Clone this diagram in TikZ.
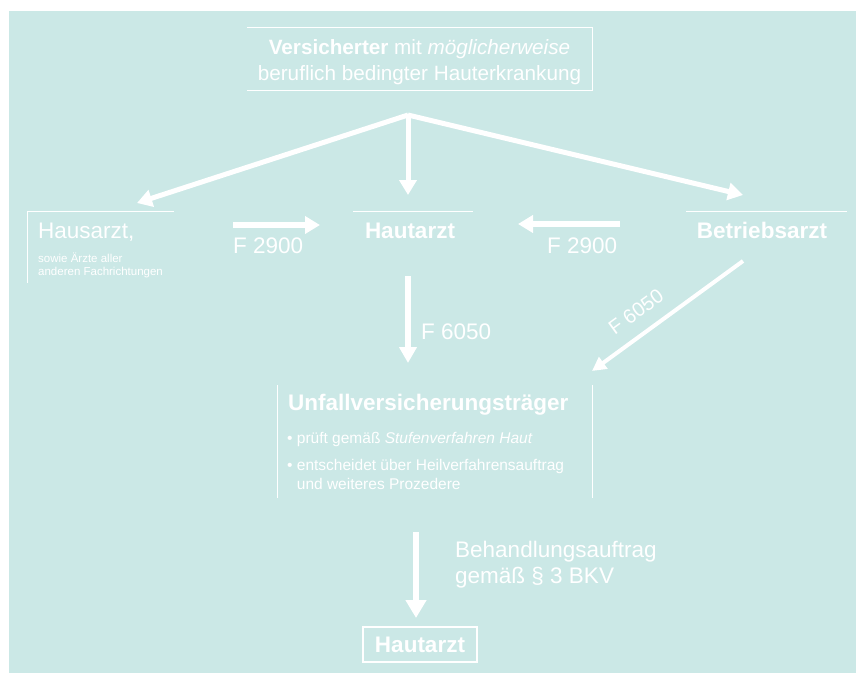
\documentclass[tikz,border=0pt]{standalone}
\usepackage{fontspec}
\setmainfont{Liberation Sans}
\usetikzlibrary{positioning,arrows.meta}
\definecolor{bgteal}{RGB}{203,232,230}
\newcommand{\toptxt}{\fontsize{20.7}{26}\selectfont}
\newcommand{\bigtxt}{\fontsize{22.5}{26}\selectfont}
\newcommand{\bultxt}{\fontsize{15.5}{19}\selectfont}
\newcommand{\notetxt}{\fontsize{11.5}{13}\selectfont}

\begin{document}
\begin{tikzpicture}[x=1pt,y=-1pt,
  lbl/.style={text=white,inner sep=0pt,font=\bigtxt},
  frame/.style={draw=white,line width=1pt},
  fat/.style={draw=white,line width=6pt,-{Triangle[width=17pt,length=15pt]}},
  thin/.style={draw=white,line width=5pt,-{Triangle[width=17pt,length=15pt]}}]
\useasboundingbox (0,0) rectangle (856,673);
\fill[bgteal] (9,11) rectangle (856,673);

% boxes and labels
\node[lbl,align=center,font=\toptxt] (vers) at (419.5,62.6)
  {\textbf{Versicherter} mit \textit{möglicherweise}\\beruflich bedingter Hauterkrankung};
\node[lbl,anchor=base west] (haus) at (38,238) {Hausarzt,};
\node[lbl,anchor=base west,align=left,font=\notetxt] (hausnote) at (38,275) {sowie Ärzte aller\\anderen Fachrichtungen};
\node[lbl,anchor=base,font=\bigtxt\bfseries] (haut) at (410,238) {Hautarzt};
\node[lbl,anchor=base,font=\bigtxt\bfseries] (betr) at (762,238) {Betriebsarzt};
\node[lbl,anchor=base west,font=\bigtxt\bfseries] (uvt) at (288,410) {Unfallversicherungsträger};
\node[lbl,anchor=base west,font=\bultxt] (pruef) at (287,443) {• prüft gemäß \textit{Stufenverfahren Haut}};
\node[lbl,anchor=base west,align=left,font=\bultxt] (entsch) at (287,489)
  {• entscheidet über Heilverfahrensauftrag\\\hspace*{9.7pt}und weiteres Prozedere};
\node[lbl,anchor=west,align=left] (beh) at (455,564.2) {Behandlungsauftrag\\gemäß § 3 BKV};
\node[lbl,draw=white,line width=1.2pt,minimum width=114pt,minimum height=35pt,font=\bigtxt\bfseries] (hautend) at (420,644.5) {Hautarzt};

% frame lines
\draw[frame] (247,27) -- (592,27) -- (592,90) -- (247,90);
\draw[frame] (174,211) -- (27,211) -- (27,283);
\draw[frame] (353,211) -- (473,211);
\draw[frame] (686,211) -- (847,211);
\draw[frame] (277,385) -- (277,498);
\draw[frame] (592,385) -- (592,498);

% arrow ends
\coordinate (split) at (408,115);
\coordinate (hausin) at (137,203);
\coordinate (hautin) at (408,195);
\coordinate (betrin) at (743,195);
\coordinate (f1a) at (233,225);
\coordinate (f1b) at (320,225);
\coordinate (f2a) at (620,224);
\coordinate (f2b) at (518,224);
\coordinate (downa) at (408,276);
\coordinate (downb) at (408,363);
\coordinate (diaga) at (743,261);
\coordinate (diagb) at (592,371);
\coordinate (lasta) at (416,532);
\coordinate (lastb) at (416,618);

\draw[thin] (split) -- (hausin);
\draw[thin] (split) -- (hautin);
\draw[thin] (split) -- (betrin);
\draw[fat] (f1a) -- (f1b);
\node[lbl,anchor=base west] (f1lbl) at (233,253) {F 2900};
\draw[fat] (f2a) -- (f2b);
\node[lbl,anchor=base west] (f2lbl) at (547,253) {F 2900};
\draw[fat,-{Triangle[width=17pt,length=16pt]}] (downa) -- (downb);
\node[lbl,anchor=base west] (f3lbl) at (421,339) {F 6050};
\draw[draw=white,line width=4pt,-{Triangle[width=14pt,length=14pt]}] (diaga) -- (diagb);
\node[lbl,rotate=36,font=\fontsize{20}{24}\selectfont] (f4lbl) at (636,312) {F 6050};
\draw[fat,-{Triangle[width=20pt,length=18pt]}] (lasta) -- (lastb);
\end{tikzpicture}
\end{document}
